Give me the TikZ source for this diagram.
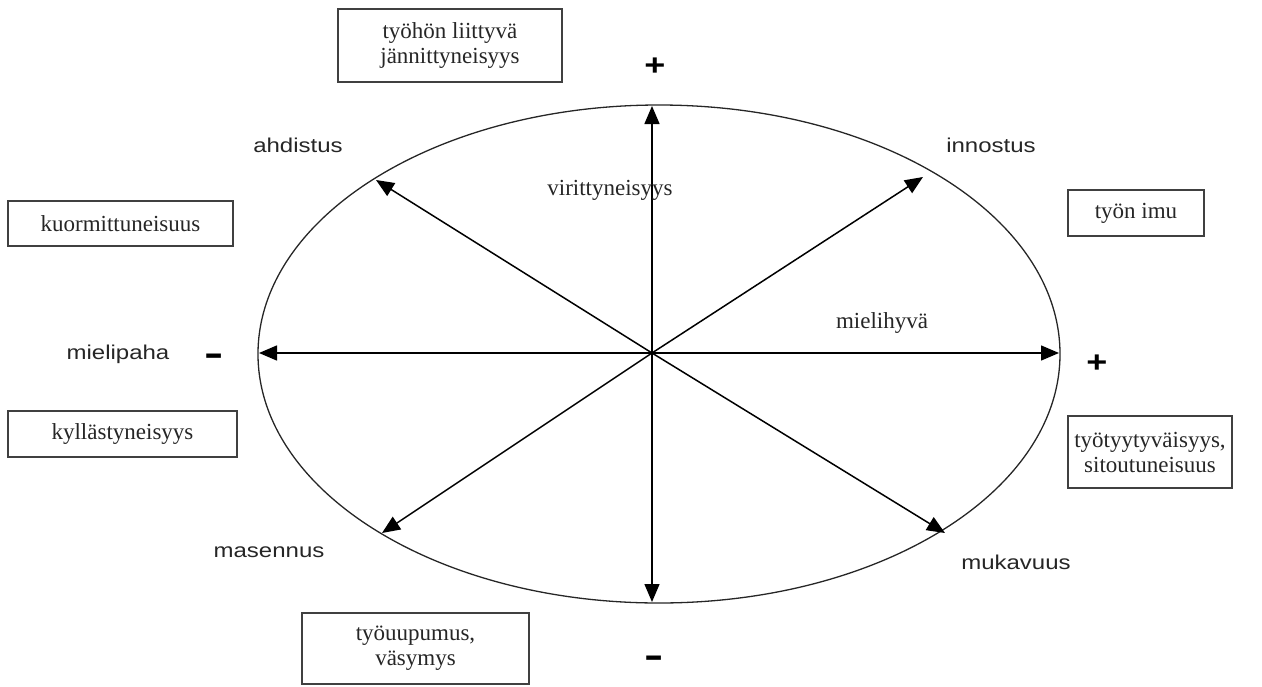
\documentclass[tikz,border=0pt]{standalone}
\usepackage{fontspec}
\setmainfont{Liberation Serif}
\newfontfamily\sansf{Liberation Sans}[FakeStretch=1.2]
\newfontfamily\minusf{Liberation Sans}[FakeStretch=1.6]
\usetikzlibrary{arrows.meta}
\begin{document}
\begin{tikzpicture}[x=1pt,y=-1pt,
  axis/.style={line width=1.5pt,draw=black,-{Triangle[length=18pt,width=15pt]}},
  box/.style={draw=black!75,line width=1.2pt,align=center,inner sep=0pt,
    font=\fontsize{23}{25}\selectfont,text=black!85},
  serlab/.style={font=\fontsize{23}{25}\selectfont,text=black!85,inner sep=0pt},
  emo/.style={font=\sansf\fontsize{20}{22}\selectfont,text=black!85,inner sep=0pt},
  sign/.style={font=\sansf\bfseries\fontsize{30}{32}\selectfont,inner sep=0pt},
  minus/.style={font=\minusf\bfseries\fontsize{36}{38}\selectfont,inner sep=0pt}]
\useasboundingbox (0,0) rectangle (1262,686);
% ellipse
\draw[line width=1.3pt,draw=black!85] (659,354) ellipse [x radius=401, y radius=249];
% centre and arrow ends
\coordinate (O) at (652,353);
\coordinate (N) at (652,106);
\coordinate (S) at (652,602);
\coordinate (E) at (1059,353);
\coordinate (W) at (259,353);
\coordinate (NE) at (923,177);
\coordinate (NW) at (376,180);
\coordinate (SE) at (945,533);
\coordinate (SW) at (382,533);
\foreach \t in {N,S,E,W,NE,NW,SE,SW} \draw[axis] (O) -- (\t);
% emotion labels
\node[emo] (ahd) at (298,145) {ahdistus};
\node[emo] (inn) at (991,145) {innostus};
\node[emo] (mpa) at (118,354) {mielipaha};
\node[emo] (mas) at (269,552) {masennus};
\node[emo] (muk) at (1016,562) {mukavuus};
% signs
\node[sign] (pT) at (655,67) {+};
\node[sign] (pR) at (1097,364) {+};
\node[minus] (mL) at (214,360) {-};
\node[minus] (mB) at (654,662) {-};
% axis labels
\node[serlab] (vir) at (610,190) {virittyneisyys};
\node[serlab] (mhy) at (882,323) {mielihyvä};
% boxes
\node[box,minimum width=224pt,minimum height=73pt] (b1) at (450,45.5) {työhön liittyvä\\jännittyneisyys};
\node[box,minimum width=225pt,minimum height=45pt] (b2) at (120.5,223.5) {kuormittuneisuus};
\node[box,minimum width=136pt,minimum height=46pt] (b3) at (1136,213) {työn imu};
\node[box,minimum width=229pt,minimum height=46pt] (b4) at (122.5,434) {kyllästyneisyys};
\node[box,minimum width=164pt,minimum height=72pt] (b5) at (1150,452) {työtyytyväisyys,\\sitoutuneisuus};
\node[box,minimum width=227pt,minimum height=71pt] (b6) at (415.5,648.5) {työuupumus,\\väsymys};
\end{tikzpicture}
\end{document}
